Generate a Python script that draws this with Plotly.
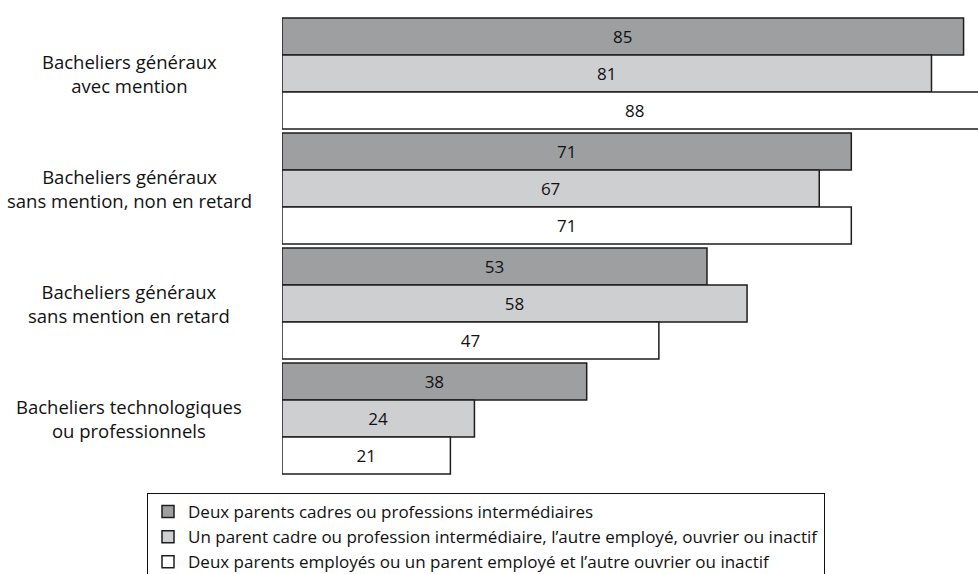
import plotly.graph_objects as go

categories = [
    "Bacheliers généraux<br>avec mention",
    "Bacheliers généraux<br>sans mention, non en retard",
    "Bacheliers généraux<br>sans mention en retard",
    "Bacheliers technologiques<br>ou professionnels",
]
series_names = [
    "Deux parents cadres ou professions intermédiaires",
    "Un parent cadre ou profession intermédiaire, l’autre employé, ouvrier ou inactif",
    "Deux parents employés ou un parent employé et l’autre ouvrier ou inactif",
]
values_deux_cadres = [85, 71, 53, 38]
values_un_cadre = [81, 67, 58, 24]
values_employes = [88, 71, 47, 21]

colors = ["#9e9fa1", "#cecfd1", "#ffffff"]
FONT = "Open Sans"

W, H = 978, 574
ML, MR, MT, MB = 282, 0, 16, 98

fig = go.Figure()
for name, vals, col in zip(series_names,
                           [values_deux_cadres, values_un_cadre, values_employes],
                           colors):
    fig.add_trace(go.Bar(
        y=categories, x=vals, name=name, orientation="h",
        marker=dict(color=col, line=dict(color="#1e1e1e", width=1.5)),
        text=[str(v) for v in vals], textposition="inside",
        insidetextanchor="middle",
        textfont=dict(family=FONT, size=17, color="#111111"),
        hoverinfo="skip",
    ))

# centred two-line category labels to the left of the bars
pw = W - ML - MR
ph = H - MT - MB
for cat in categories:
    fig.add_annotation(
        x=(129 - ML) / pw, xref="paper", y=cat, yref="y",
        text=cat, showarrow=False, align="center",
        xanchor="center", yanchor="middle",
        font=dict(family=FONT, size=18.5, color="#111111"),
    )

fig.update_layout(
    width=W, height=H,
    margin=dict(l=ML, r=MR, t=MT, b=MB, pad=0, autoexpand=False),
    barmode="group", bargap=0.035, bargroupgap=0,
    plot_bgcolor="white", paper_bgcolor="white",
    xaxis=dict(range=[0, 86.8], visible=False, fixedrange=True),
    yaxis=dict(autorange="reversed", showticklabels=False, showgrid=False,
               zeroline=False, showline=False, ticks=""),
    showlegend=True,
    legend=dict(
        x=(147 - ML) / pw, xanchor="left",
        y=(H - MB - 493) / ph, yanchor="top",
        bordercolor="#111111", borderwidth=1, bgcolor="white",
        font=dict(family=FONT, size=17, color="#111111"),
        itemwidth=30, tracegroupgap=0, traceorder="normal",
    ),
    uniformtext=dict(minsize=10, mode="show"),
)

fig.write_html("out.html")
